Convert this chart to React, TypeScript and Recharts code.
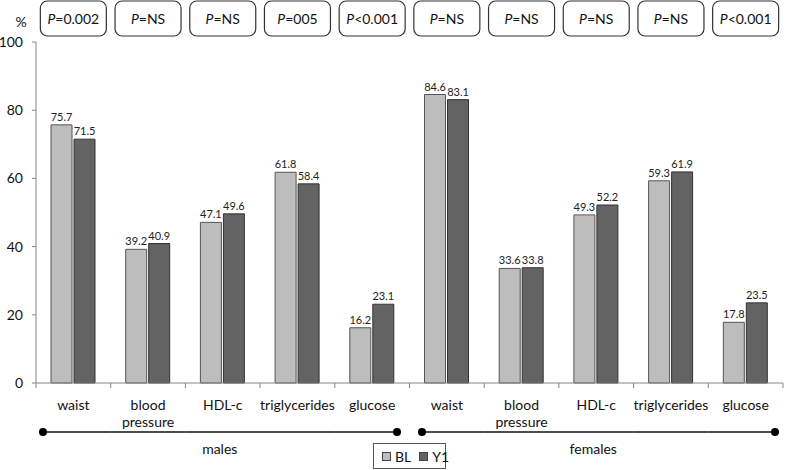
import React from 'react';
import { BarChart, Bar, XAxis, YAxis, LabelList } from 'recharts';

const categories = ['waist', 'blood pressure', 'HDL-c', 'triglycerides', 'glucose', 'waist', 'blood pressure', 'HDL-c', 'triglycerides', 'glucose'];
const groupNames = ['males', 'females'];
const blValues = [75.7, 39.2, 47.1, 61.8, 16.2, 84.6, 33.6, 49.3, 59.3, 17.8];
const y1Values = [71.5, 40.9, 49.6, 58.4, 23.1, 83.1, 33.8, 52.2, 61.9, 23.5];
const pLabels = ['=0.002', '=NS', '=NS', '=005', '<0.001', '=NS', '=NS', '=NS', '=NS', '<0.001'];
const yTicks = [0, 20, 40, 60, 80, 100];

const GROUP_SIZE = 5;
const data = categories.map((name, i) => ({
  key: `c${i}`,
  name,
  group: groupNames[Math.floor(i / GROUP_SIZE)],
  BL: blValues[i],
  Y1: y1Values[i],
}));

// layout
const W = 787;
const H = 470;
const Y_AXIS_W = 36;
const RIGHT = 4;
const TOP_H = 42;
const BOTTOM_H = 87;
const PLOT_BOTTOM = H - BOTTOM_H;
const BAND = (W - Y_AXIS_W - RIGHT) / categories.length;

const FONT = 'Lato, "Open Sans", sans-serif';
const AXIS = '#868686';
const BL_FILL = '#bdbdbd';
const Y1_FILL = '#636363';

const TopTick = (props: any) => {
  const { x, index } = props;
  const w = 66;
  return (
    <g>
      <rect x={x - w / 2} y={1} width={w} height={35} rx={7} fill="#fff" stroke="#333" strokeWidth={1.2} />
      <text x={x} y={24} textAnchor="middle" fontSize={14} fontFamily={FONT} fill="#111">
        <tspan fontStyle="italic">P</tspan>
        <tspan>{pLabels[index]}</tspan>
      </text>
    </g>
  );
};

const BottomTick = (props: any) => {
  const { x, index } = props;
  const d = data[index];
  const half = BAND / 2;
  const pos = index % GROUP_SIZE;
  const groupIdx = Math.floor(index / GROUP_SIZE);
  const lastGroup = groupIdx === groupNames.length - 1;
  const lines = d.name === 'blood pressure' ? ['blood', 'pressure'] : [d.name];
  const lineY = PLOT_BOTTOM + 49;
  let x1 = x - half;
  let x2 = x + half;
  if (pos === 0) x1 = x - half + (groupIdx === 0 ? 7 : 12.5);
  if (pos === GROUP_SIZE - 1) x2 = x + half - (lastGroup ? 8 : 12.5);
  return (
    <g>
      <line x1={x - half} x2={x - half} y1={PLOT_BOTTOM} y2={PLOT_BOTTOM + 5} stroke={AXIS} />
      {index === data.length - 1 && (
        <line x1={x + half} x2={x + half} y1={PLOT_BOTTOM} y2={PLOT_BOTTOM + 5} stroke={AXIS} />
      )}
      <text x={x} y={PLOT_BOTTOM + 27} textAnchor="middle" fontSize={14} fontFamily={FONT} fill="#111">
        {lines.map((l, i) => (
          <tspan key={l} x={x} dy={i ? 17 : 0}>
            {l}
          </tspan>
        ))}
      </text>
      <line x1={x1} x2={x2} y1={lineY} y2={lineY} stroke="#111" strokeWidth={1.5} />
      {pos === 0 && <circle cx={x1} cy={lineY} r={4} fill="#000" />}
      {pos === GROUP_SIZE - 1 && <circle cx={x2} cy={lineY} r={4} fill="#000" />}
      {pos === 2 && (
        <text x={x - 3} y={PLOT_BOTTOM + 71} textAnchor="middle" fontSize={14} fontFamily={FONT} fill="#111">
          {d.group}
        </text>
      )}
    </g>
  );
};

const PercentLabel = (props: any) => {
  const { viewBox } = props;
  return (
    <text x={21} y={viewBox.y - 15} textAnchor="middle" fontSize={14} fontFamily={FONT} fill="#111">
      %
    </text>
  );
};

const LegendBox = () => (
  <div
    style={{
      position: 'absolute',
      left: 373,
      top: 443,
      width: 71,
      height: 24,
      border: '1px solid #555',
      background: '#fff',
      display: 'flex',
      alignItems: 'center',
      fontFamily: FONT,
      fontSize: 14,
      color: '#111',
      boxSizing: 'content-box',
    }}
  >
    {[
      { name: 'BL', color: BL_FILL },
      { name: 'Y1', color: Y1_FILL },
    ].map((it) => (
      <span key={it.name} style={{ display: 'flex', alignItems: 'center', marginLeft: it.name === 'BL' ? 8 : 8 }}>
        <span style={{ width: 7, height: 7, background: it.color, border: '1px solid #444', marginRight: 4 }} />
        {it.name}
      </span>
    ))}
  </div>
);

export default function App() {
  return (
    <div style={{ position: 'absolute', left: 0, top: 0, width: W, height: H, background: '#fff' }}>
      <BarChart
        width={W}
        height={H}
        data={data}
        margin={{ top: 0, right: RIGHT, left: 0, bottom: 0 }}
        barSize={21}
        barGap={2}
      >
        <XAxis
          xAxisId="top"
          dataKey="key"
          orientation="top"
          height={TOP_H}
          axisLine={false}
          tickLine={false}
          tick={<TopTick />}
          interval={0}
        />
        <XAxis
          dataKey="key"
          height={BOTTOM_H}
          axisLine={{ stroke: AXIS }}
          tickLine={false}
          tick={<BottomTick />}
          interval={0}
        />
        <YAxis
          width={Y_AXIS_W}
          domain={[0, 100]}
          ticks={yTicks}
          axisLine={{ stroke: AXIS }}
          tickLine={{ stroke: AXIS }}
          tickSize={4}
          tickMargin={9}
          tick={{ fontSize: 14, fontFamily: FONT, fill: '#111' }}
          label={<PercentLabel />}
        />
        <Bar dataKey="BL" fill={BL_FILL} stroke="#555" strokeWidth={1} isAnimationActive={false}>
          <LabelList dataKey="BL" position="top" offset={4} fontSize={11} fontFamily={FONT} fill="#222" />
        </Bar>
        <Bar dataKey="Y1" fill={Y1_FILL} stroke="#333" strokeWidth={1} isAnimationActive={false}>
          <LabelList dataKey="Y1" position="top" offset={4} fontSize={11} fontFamily={FONT} fill="#222" />
        </Bar>
      </BarChart>
      <LegendBox />
    </div>
  );
}
